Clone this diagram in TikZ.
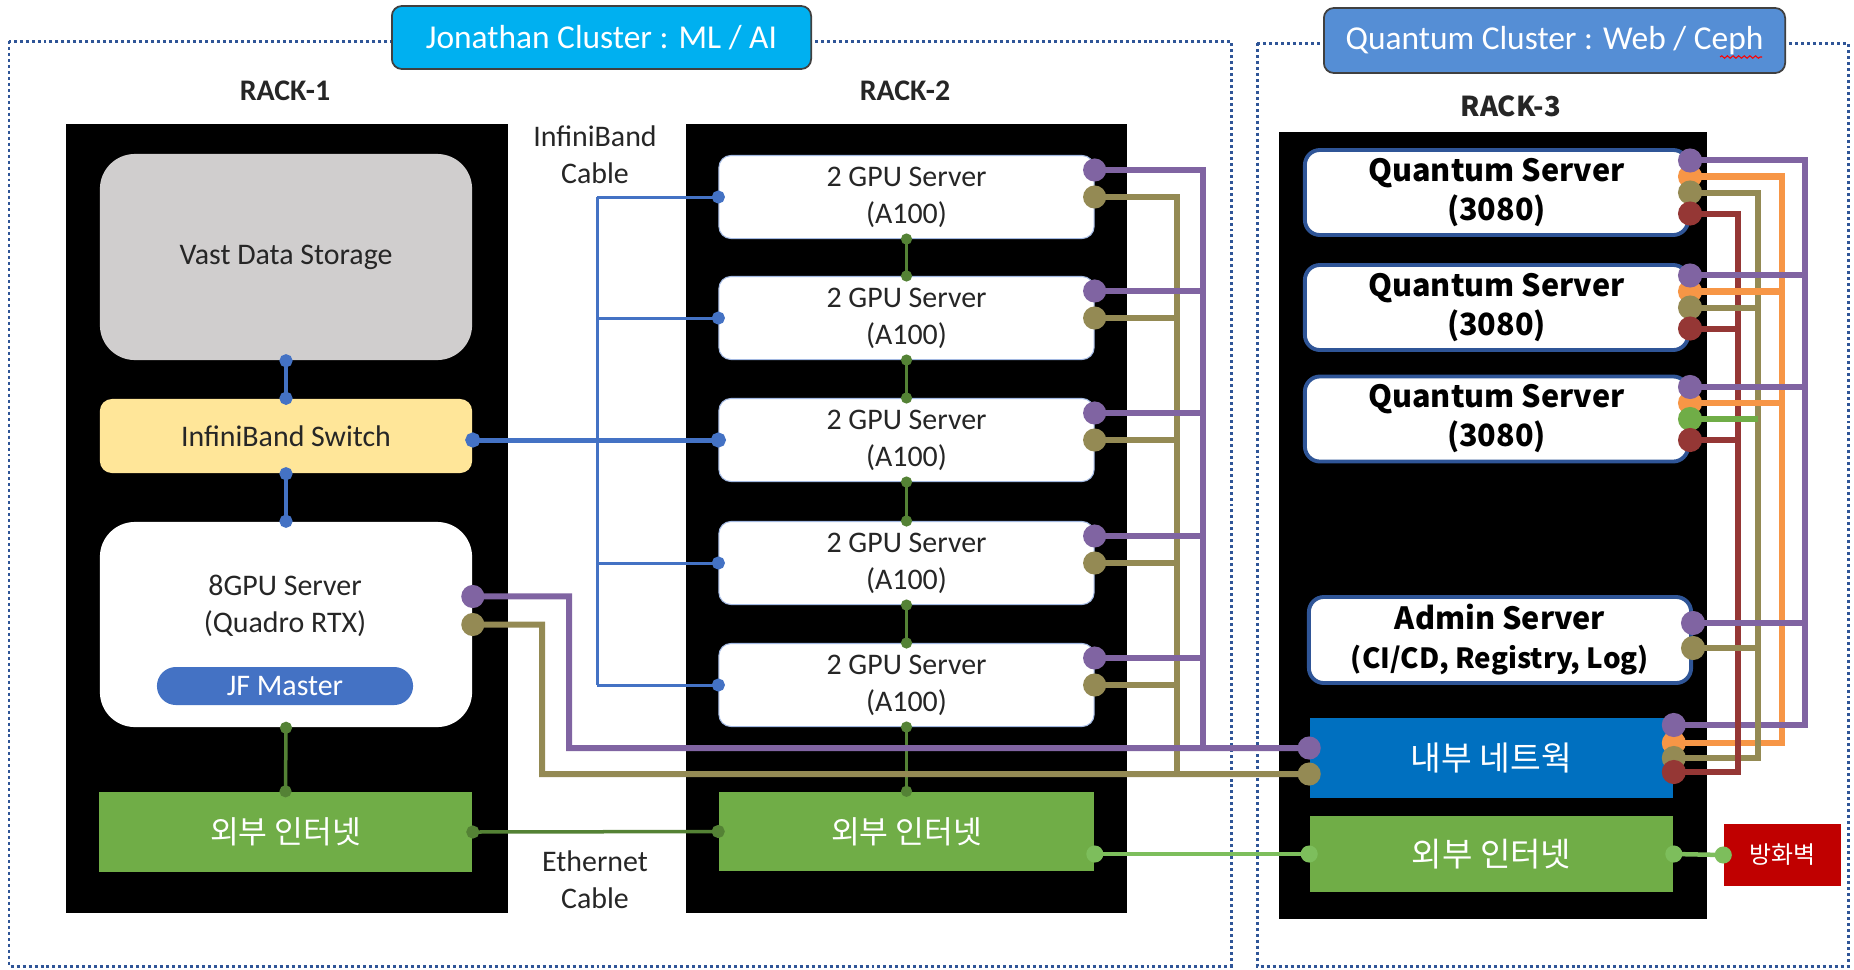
\documentclass[tikz,border=0pt]{standalone}
\usepackage{fontspec}
\setmainfont{Carlito}
\newfontfamily\kr{Noto Sans CJK KR}
\usetikzlibrary{arrows.meta,decorations.pathmorphing}

\definecolor{ibblue}{HTML}{4472C4}
\definecolor{cpurple}{HTML}{8064A2}
\definecolor{colive}{HTML}{948A54}
\definecolor{corange}{HTML}{F79646}
\definecolor{cred}{HTML}{953735}
\definecolor{cgreen}{HTML}{70AD47}
\definecolor{dgreen}{HTML}{548235}
\definecolor{lgreen}{HTML}{7DBE5C}
\definecolor{storegray}{HTML}{D0CECE}
\definecolor{swyellow}{HTML}{FFE699}
\definecolor{borderblue}{HTML}{2F5597}
\definecolor{jonblue}{HTML}{00B0F0}
\definecolor{qblue}{HTML}{558ED5}
\definecolor{netblue}{HTML}{0070C0}
\definecolor{fwred}{HTML}{C00000}

\begin{document}
\begin{tikzpicture}[x=0.01cm, y=-0.01cm,
    box/.style={rectangle, inner sep=0pt, align=center, text=black!85,
      font=\fontsize{8.5}{10.5}\selectfont},
    srv/.style={box, fill=white, draw=ibblue!50, line width=0.3pt,
      rounded corners=0.12cm, minimum width=3.75cm, minimum height=0.83cm},
    qsrv/.style={box, fill=white, draw=borderblue, line width=1.1pt,
      rounded corners=0.15cm, minimum width=3.83cm, minimum height=0.85cm,
      text=black, font=\kr\bfseries\fontsize{8.7}{11.1}\selectfont},
    net/.style={box, text=white, font=\kr\fontsize{8.9}{10}\selectfont},
    title/.style={box, rounded corners=0.1cm, draw=black!75, line width=0.5pt,
      text=white, font=\fontsize{9.5}{11}\selectfont},
    racklbl/.style={text=black!85, font=\bfseries\fontsize{8.5}{10}\selectfont},
    frame/.style={draw=borderblue, line width=0.85pt, dash pattern=on 0.85pt off 0.85pt},
    dot ends/.style={{Circle[length=#1]}-{Circle[length=#1]},
      shorten <=-#1/2, shorten >=-#1/2},
    dot start/.style={{Circle[length=#1]}-, shorten <=-#1/2},
    ibwire/.style={ibblue, line width=0.03cm},
    gwire/.style={dgreen, line width=0.035cm},
    lwire/.style={lgreen, line width=0.045cm},
    pwire/.style={cpurple, line width=0.06cm},
    owire/.style={colive, line width=0.06cm},
    orwire/.style={corange, line width=0.06cm},
    rwire/.style={cred, line width=0.06cm}]
  \useasboundingbox (0,0) rectangle (1854,969);

  \draw[frame] (9,41) rectangle (1231,966);
  \draw[frame] (1257,43) rectangle (1848,966);
  \node[title, fill=jonblue, minimum width=4.19cm, minimum height=0.63cm] (jon) at (601.5,37.5) {Jonathan Cluster : ML / AI};
  \node[title, fill=qblue, minimum width=4.61cm, minimum height=0.65cm] (quan) at (1554.5,40.5) {Quantum Cluster : Web / Ceph};
  \draw[red, line width=0.3pt, decorate, decoration={snake, amplitude=0.35pt, segment length=1.6pt}] (1720,57) -- (1762,57);

  \fill (66,124) rectangle (508,913);
  \fill (686,124) rectangle (1127,913);
  \fill (1279,132) rectangle (1707,919);
  \node[racklbl] (r1) at (285,91) {RACK-1};
  \node[racklbl] (r2) at (905,91) {RACK-2};
  \node[racklbl, font=\kr\bfseries\fontsize{7.8}{10}\selectfont] (r3) at (1511,106) {RACK-3};

  \node[box, fill=storegray, rounded corners=0.35cm, minimum width=3.72cm, minimum height=2.06cm] (vast) at (286,257) {Vast Data Storage};
  \node[box, fill=swyellow, rounded corners=0.12cm, minimum width=3.72cm, minimum height=0.74cm] (ibsw) at (286,436) {InfiniBand Switch};
  \node[box, fill=white, rounded corners=0.35cm, minimum width=3.72cm, minimum height=2.05cm] (gpu8) at (286,624.5) {};
  \node[box] (gpu8txt) at (285,606) {8GPU Server\\(Quadro RTX)};
  \node[box, fill=ibblue, text=white, rounded corners=0.19cm, minimum width=2.56cm, minimum height=0.38cm] (jf) at (285,686) {JF Master};
  \node[net, fill=cgreen, minimum width=3.73cm, minimum height=0.8cm] (ext1) at (285.5,832) {외부 인터넷};

  \foreach \i/\y in {1/197,2/318,3/440,4/563,5/685}
    \node[srv] (s\i) at (906.5,\y) {2 GPU Server\\(A100)};
  \node[net, fill=cgreen, minimum width=3.75cm, minimum height=0.79cm] (ext2) at (906.5,831.5) {외부 인터넷};
  \node[box] (ibcable) at (595,155) {InfiniBand\\Cable};
  \node[box] (ethcable) at (595,880) {Ethernet\\Cable};

  \foreach \n/\y in {q1/192.5,q2/307.5,q3/419}
    \node[qsrv] (\n) at (1496.5,\y) {Quantum Server\\(3080)};
  \node[qsrv, minimum width=3.82cm, minimum height=0.86cm] (adm) at (1500,640) {Admin Server\\{\fontsize{7.9}{10.5}\selectfont (CI/CD, Registry, Log)}};
  \node[net, fill=netblue, minimum width=3.63cm, minimum height=0.8cm, font=\kr\fontsize{9.5}{10}\selectfont] (inet) at (1491.5,758) {내부 네트웍};
  \node[net, fill=cgreen, minimum width=3.63cm, minimum height=0.76cm, font=\kr\fontsize{9.4}{10}\selectfont] (ext3) at (1491.5,854) {외부 인터넷};
  \node[net, fill=fwred, minimum width=1.17cm, minimum height=0.62cm, font=\kr\fontsize{6.8}{8}\selectfont] (fw) at (1782.5,855) {방화벽};

  \draw[ibwire, line width=0.045cm, dot ends=0.13cm] (vast.south) -- (ibsw.north);
  \draw[ibwire, line width=0.045cm, dot ends=0.13cm] (ibsw.south) -- (gpu8.north);
  \coordinate (ibx) at (597,0);
  \draw[ibwire] (s1.west -| ibx) -- (s5.west -| ibx);
  \foreach \i in {1,2,4,5}
    \draw[ibwire, -{Circle[length=0.13cm]}, shorten >=-0.065cm] (s\i.west -| ibx) -- (s\i.west);
  \draw[ibwire, line width=0.05cm, dot ends=0.15cm] (ibsw.east |- s3.west) -- (s3.west);

  \draw[gwire, dot ends=0.12cm] (gpu8.south) -- (ext1.north);
  \foreach \i [count=\j from 2] in {1,...,4}
    \draw[gwire, dot ends=0.11cm] (s\i.south) -- (s\j.north);
  \draw[gwire, dot ends=0.11cm] (s5.south) -- (ext2.north);
  \draw[gwire, dot ends=0.13cm] (ext1.east) -- (ext2.west);
  \draw[lwire, dot ends=0.17cm] (ext2.east |- ext3.west) -- (ext3.west);
  \draw[lwire, dot ends=0.17cm] (ext3.east) -- (fw.west);

  \coordinate (purG8) at ([yshift=0.28cm]gpu8.east);
  \coordinate (oliG8) at (gpu8.east);
  \coordinate (purNetW) at ([yshift=0.1cm]inet.west);
  \coordinate (oliNetW) at ([yshift=-0.16cm]inet.west);
  \coordinate (pbend) at (569,748);
  \coordinate (obend) at (542,774);
  \coordinate (pbus) at (1203,748);
  \coordinate (obus) at (1177,774);
  \foreach \i in {1,...,5} {
    \coordinate (purS\i) at ([yshift=0.27cm]s\i.east);
    \coordinate (oliS\i) at (s\i.east);
  }
  \draw[owire, dot start=0.23cm] (oliS1) -| (obus);
  \foreach \i in {2,...,5}
    \draw[owire, dot start=0.23cm] (oliS\i) -- (oliS\i -| obus);
  \draw[owire, dot ends=0.23cm] (oliG8) -| (obend) -- (oliNetW);
  \draw[pwire, dot start=0.23cm] (purS1) -| (pbus);
  \foreach \i in {2,...,5}
    \draw[pwire, dot start=0.23cm] (purS\i) -- (purS\i -| pbus);
  \draw[pwire, dot ends=0.23cm] (purG8) -| (pbend) -- (purNetW);

  \foreach \n in {q1,q2,q3} {
    \coordinate (pur\n) at ([yshift=0.32cm]\n.east);
    \coordinate (ora\n) at ([yshift=0.16cm]\n.east);
    \coordinate (oli\n) at (\n.east);
    \coordinate (red\n) at ([yshift=-0.21cm]\n.east);
  }
  \coordinate (purAdm) at ([yshift=0.17cm]adm.east);
  \coordinate (oliAdm) at ([yshift=-0.08cm]adm.east);
  \coordinate (purNet) at ([yshift=0.33cm]inet.east);
  \coordinate (oraNet) at ([yshift=0.15cm]inet.east);
  \coordinate (oliNet) at (inet.east);
  \coordinate (redNet) at ([yshift=-0.14cm]inet.east);
  \coordinate (qpbus) at (1805,0);
  \coordinate (qobus) at (1782,0);
  \coordinate (qlbus) at (1758,0);
  \coordinate (qrbus) at (1738,0);

  \draw[orwire, dot ends=0.24cm] (oraq1) -| (oraNet -| qobus) -- (oraNet);
  \draw[pwire, dot ends=0.24cm] (purq1) -| (purNet -| qpbus) -- (purNet);
  \draw[owire, dot ends=0.24cm] (oliq1) -| (oliNet -| qlbus) -- (oliNet);
  \draw[rwire, dot ends=0.24cm] (redq1) -| (redNet -| qrbus) -- (redNet);
  \foreach \n in {q2,q3} {
    \draw[orwire, dot start=0.24cm] (ora\n) -- (ora\n -| qobus);
    \draw[pwire, dot start=0.24cm] (pur\n) -- (pur\n -| qpbus);
  }
  \draw[owire, dot start=0.24cm] (oliq2) -- (oliq2 -| qlbus);
  \draw[owire, cgreen, dot start=0.24cm] (oliq3) -- (oliq3 -| qlbus);
  \draw[rwire, dot start=0.24cm] (redq2) -- (redq2 -| qrbus);
  \draw[rwire, dot start=0.24cm] (redq3) -- (redq3 -| qrbus);
  \draw[pwire, dot start=0.24cm] (purAdm) -- (purAdm -| qpbus);
  \draw[owire, dot start=0.24cm] (oliAdm) -- (oliAdm -| qlbus);
\end{tikzpicture}
\end{document}
